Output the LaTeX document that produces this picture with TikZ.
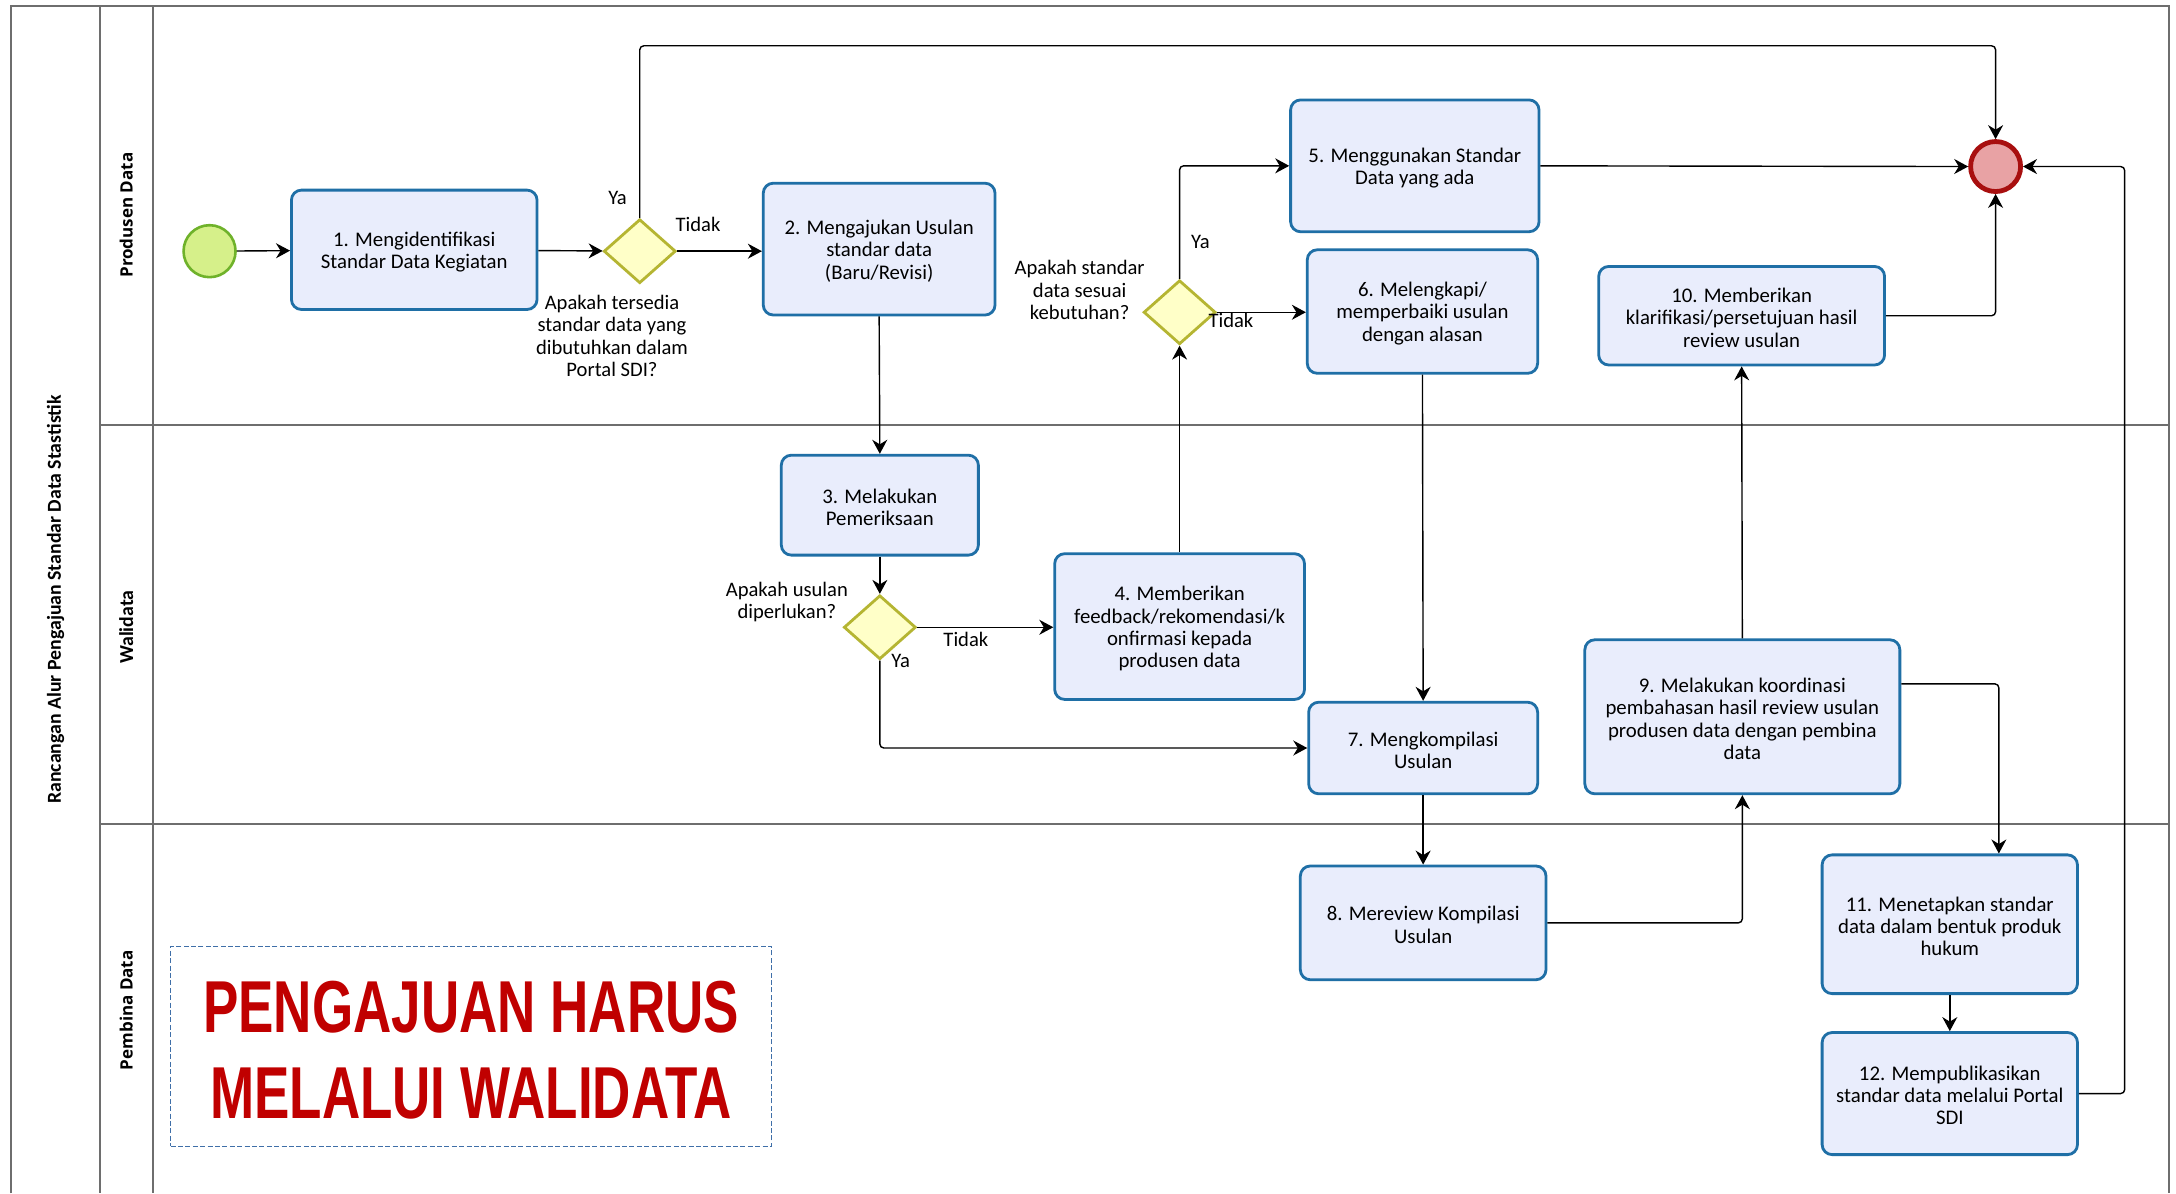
\documentclass[tikz,border=0pt]{standalone}
\usepackage{fontspec}
\setmainfont{Carlito}
\newfontfamily\lanefont{Open Sans}
\newfontfamily\noticefont[FakeStretch=0.72]{Liberation Sans}
\usetikzlibrary{shapes.geometric,arrows.meta,fit,calc}

\definecolor{taskfill}{HTML}{E9EDFC}
\definecolor{taskline}{HTML}{1F6FA6}
\definecolor{gatefill}{HTML}{FFFFC8}
\definecolor{gateline}{HTML}{B5B532}
\definecolor{startfill}{HTML}{D6F08A}
\definecolor{startline}{HTML}{6FB22A}
\definecolor{endfill}{HTML}{E8A2A4}
\definecolor{endline}{HTML}{A80F0F}
\definecolor{laneline}{HTML}{6E6E6E}
\definecolor{noteline}{HTML}{3F6FA8}
\definecolor{notered}{HTML}{C00000}

\tikzset{
  task/.style={draw=taskline, fill=taskfill, line width=1.4pt, rounded corners=5pt,
    inner sep=0pt},
  tasktext/.style={align=center, inner sep=0pt, font=\fontsize{10.4}{11.1}\selectfont},
  gate/.style={diamond, draw=gateline, fill=gatefill, line width=1.4pt,
    minimum width=36pt, minimum height=32pt, inner sep=0pt},
  startev/.style={circle, draw=startline, fill=startfill, line width=1.3pt,
    minimum size=26pt, inner sep=0pt},
  endev/.style={circle, draw=endline, fill=endfill, line width=2.4pt,
    minimum size=25pt, inner sep=0pt},
  flow/.style={draw=black, line width=0.7pt, rounded corners=2pt,
    -{Stealth[length=7pt,width=7.5pt]}},
  lbl/.style={font=\fontsize{10.3}{11.1}\selectfont, align=center, inner sep=0pt},
  lane/.style={draw=laneline, line width=1pt},
  lanetitle/.style={rotate=90, font=\lanefont\bfseries\fontsize{8.5}{9}\selectfont, inner sep=0pt},
  pooltitle/.style={rotate=90, font=\bfseries\fontsize{9.9}{10}\selectfont, inner sep=0pt},
}

\begin{document}
\begin{tikzpicture}[x=0.6939pt, y=-0.6939pt]
\fill[white] (0,0) rectangle (1568,860);
\useasboundingbox (0,0) rectangle (1568,860);

% pool and lanes
\draw[lane] (8,860) -- (8,4) -- (1563,4) -- (1563,860);
\draw[lane] (72,4) -- (72,860);
\draw[lane] (110,4) -- (110,860);
\draw[lane] (72,306) -- (1563,306);
\draw[lane] (72,594) -- (1563,594);

\node[pooltitle] (pool) at (40,432) {Rancangan Alur Pengajuan Standar Data Stastistik};
\node[lanetitle] (lane1) at (91,155) {Produsen Data};
\node[pooltitle] (lane2) at (91,452) {Walidata};
\node[lanetitle] (lane3) at (91,728) {Pembina Data};

% events and gateways
\node[startev] (s) at (151,181) {};
\node[endev] (e) at (1438,120) {};
\node[gate] (d1) at (461,181) {};
\node[gate] (d2) at (850,225) {};
\node[gate] (d3) at (634,452) {};

% task boxes
\node[task, fit={(210,137) (387,223)}] (b1) {};
\node[task, fit={(550,132) (717,227)}] (b2) {};
\node[task, fit={(563,328) (705,400)}] (b3) {};
\node[task, fit={(760,399) (940,504)}] (b4) {};
\node[task, fit={(930,72) (1109,167)}] (b5) {};
\node[task, fit={(942,180) (1108,269)}] (b6) {};
\node[task, fit={(943,506) (1108,572)}] (b7) {};
\node[task, fit={(937,624) (1114,706)}] (b8) {};
\node[task, fit={(1142,461) (1369,572)}] (b9) {};
\node[task, fit={(1152,192) (1358,263)}] (b10) {};
\node[task, fit={(1313,616) (1497,716)}] (b11) {};
\node[task, fit={(1313,744) (1497,832)}] (b12) {};

% task captions
\node[tasktext] (t1) at ([yshift=-1pt]b1.center) {1. Mengidentifikasi\\Standar Data Kegiatan};
\node[tasktext] (t2) at ([yshift=-1pt]b2.center) {2. Mengajukan Usulan\\standar data\\(Baru/Revisi)};
\node[tasktext] (t3) at ([yshift=-1pt]b3.center) {3. Melakukan\\Pemeriksaan};
\node[tasktext] (t4) at ([yshift=-1pt]b4.center) {4. Memberikan\\feedback/rekomendasi/k\\onfirmasi kepada\\produsen data};
\node[tasktext] (t5) at ([yshift=-1pt]b5.center) {5. Menggunakan Standar\\Data yang ada};
\node[tasktext] (t6) at ([yshift=-1pt]b6.center) {6. Melengkapi/\\memperbaiki usulan\\dengan alasan};
\node[tasktext] (t7) at ([yshift=-1pt]b7.center) {7. Mengkompilasi\\Usulan};
\node[tasktext] (t8) at ([yshift=-1pt]b8.center) {8. Mereview Kompilasi\\Usulan};
\node[tasktext] (t9) at ([yshift=-1pt]b9.center) {9. Melakukan koordinasi\\pembahasan hasil review usulan\\produsen data dengan pembina\\data};
\node[tasktext] (t10) at ([yshift=-1pt]b10.center) {10. Memberikan\\klarifikasi/persetujuan hasil\\review usulan};
\node[tasktext] (t11) at ([yshift=-1pt]b11.center) {11. Menetapkan standar\\data dalam bentuk produk\\hukum};
\node[tasktext] (t12) at ([yshift=-1pt]b12.center) {12. Mempublikasikan\\standar data melalui Portal\\SDI};

% gateway labels
\node[lbl] (q1) at (441,242) {Apakah tersedia\\standar data yang\\dibutuhkan dalam\\Portal SDI?};
\node[lbl] (q1y) at (445,143) {Ya};
\node[lbl] (q1n) at (503,162) {Tidak};
\node[lbl] (q2) at (778,209) {Apakah standar\\data sesuai\\kebutuhan?};
\node[lbl] (q2y) at (865,174) {Ya};
\node[lbl] (q2n) at (887,231) {Tidak};
\node[lbl] (q3) at (567,434) {Apakah usulan\\diperlukan?};
\node[lbl] (q3n) at (696,461) {Tidak};
\node[lbl] (q3y) at (649,476) {Ya};

% helper level for the top connector
\coordinate (ytop) at (0,33);

% sequence flows
\draw[flow] (s) -- (b1);
\draw[flow] (b1) -- (d1);
\draw[flow] (d1.north) |- (ytop -| e.north) -- (e.north);
\draw[flow] (d1.east) -- (d1.east -| b2.west);
\draw[flow] (b2.south) -- (b3.north);
\draw[flow] (b3.south) -- (d3.north);
\draw[flow] (d3.east) -- (d3.east -| b4.west);
\draw[flow] (d3.south) |- (b7.west);
\draw[flow] (b4.north) -- (d2.south);
\draw[flow] (d2.north) |- (b5.west);
\draw[flow] (d2.east) -- (d2.east -| b6.west);
\draw[flow] (b5.east) -- (e.west);
\draw[flow] (b6.south) -- (b7.north);
\draw[flow] (b7.south) -- (b8.north);
\draw[flow] (b8.east) -| (b9.south);
\draw[flow] (b9.north) -- (b10.south);
\draw[flow] (b10.east) -| (e.south);
\draw[flow] ($(b9.north east)!0.29!(b9.south east)$) -| ($(b11.north west)!0.69!(b11.north east)$);
\draw[flow] (b11.south) -- (b12.north);
\draw[flow] (b12.east) -- ++(33,0) |- (e.east);

% notice
\node[draw=noteline, dash pattern=on 2.5pt off 1.2pt, line width=0.8pt,
  fit={(123,682) (556,826)}, inner sep=0pt] (note) {};
\node[font=\noticefont\bfseries\fontsize{36.8}{43}\selectfont, text=notered, align=center, inner sep=0pt]
  (notetext) at (339.5,757) {PENGAJUAN HARUS\\MELALUI WALIDATA};
\end{tikzpicture}
\end{document}
